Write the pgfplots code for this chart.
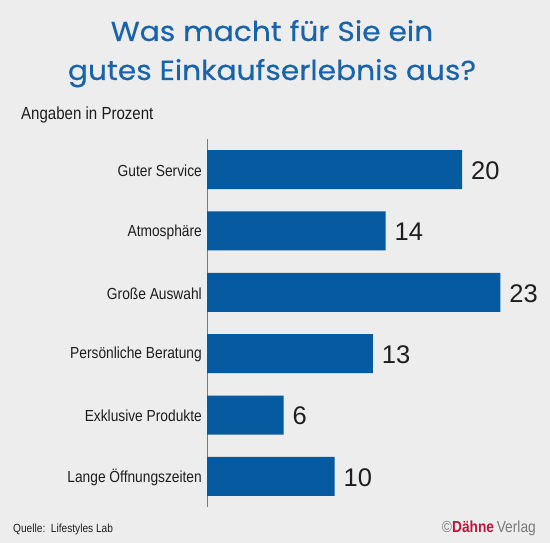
\documentclass[border=0pt]{standalone}
\usepackage{pgfplots}
\pgfplotsset{compat=1.18}
\usepackage{fontspec}
\setmainfont{Liberation Sans}
\newfontfamily\condfont[FakeStretch=0.86]{Liberation Sans}
\newfontfamily\titlefont[FakeStretch=1.08, FakeBold=0.4]{Poppins}
\definecolor{bgcol}{HTML}{EDEDED}
\definecolor{barblue}{HTML}{055AA0}
\definecolor{titleblue}{HTML}{1864AC}
\definecolor{txt}{HTML}{1E1E1E}
\definecolor{dred}{HTML}{C0143C}
\definecolor{vgrey}{HTML}{7A7A7A}
\begin{document}
\begin{tikzpicture}[x=1bp,y=1bp]
\fill[bgcol] (0,0) rectangle (550,543);
\path[use as bounding box] (0,0) rectangle (550,543);
\node[anchor=base, inner sep=0pt, text=titleblue, font={\titlefont\fontsize{27.5bp}{30bp}\selectfont}] at (272,502) {Was macht für Sie ein};
\node[anchor=base, inner sep=0pt, text=titleblue, font={\titlefont\fontsize{27.5bp}{30bp}\selectfont}] at (272,463) {gutes Einkaufserlebnis aus?};
\node[anchor=base west, inner sep=0pt, text=txt, font={\condfont\fontsize{17.5bp}{20bp}\selectfont}] at (21,423) {Angaben in Prozent};
\node[anchor=base west, inner sep=0pt, text=txt, font={\condfont\fontsize{11.8bp}{14bp}\selectfont}] at (13,10) {Quelle:\ \ Lifestyles Lab};
\node[anchor=base east, inner sep=0pt, font={\condfont\fontsize{16bp}{18bp}\selectfont}] at (536,10) {\textcolor{vgrey}{©}\textcolor{dred}{\bfseries Dähne}\,\textcolor{vgrey}{Verlag}};
\begin{axis}[
  at={(207bp,36bp)}, anchor=south west,
  scale only axis,
  width=337.875bp, height=368bp,
  xmin=0, xmax=26.5,
  ymin=0.5, ymax=6.5,
  y dir=reverse,
  xbar, bar width=39bp,
  axis x line=none,
  axis y line*=left,
  y axis line style={draw=vgrey, line width=0.9pt, -},
  ytick={1,2,3,4,5,6},
  yticklabels={Guter Service, Atmosphäre, Große Auswahl, Persönliche Beratung, Exklusive Produkte, Lange Öffnungszeiten},
  major tick length=0pt,
  yticklabel style={font={\condfont\fontsize{16bp}{18bp}\selectfont}, text=txt, inner sep=0pt, xshift=-5bp, yshift=-1bp},
  /pgf/number format/assume math mode=true,
  nodes near coords,
  every node near coord/.append style={font={\fontsize{25.5bp}{28bp}\selectfont}, text=txt, anchor=west, inner sep=0pt, xshift=9bp, yshift=-1bp},
  clip=false,
]
\addplot[fill=barblue, draw=none] coordinates {(20,1) (14,2) (23,3) (13,4) (6,5) (10,6)};
\end{axis}
\end{tikzpicture}
\end{document}
